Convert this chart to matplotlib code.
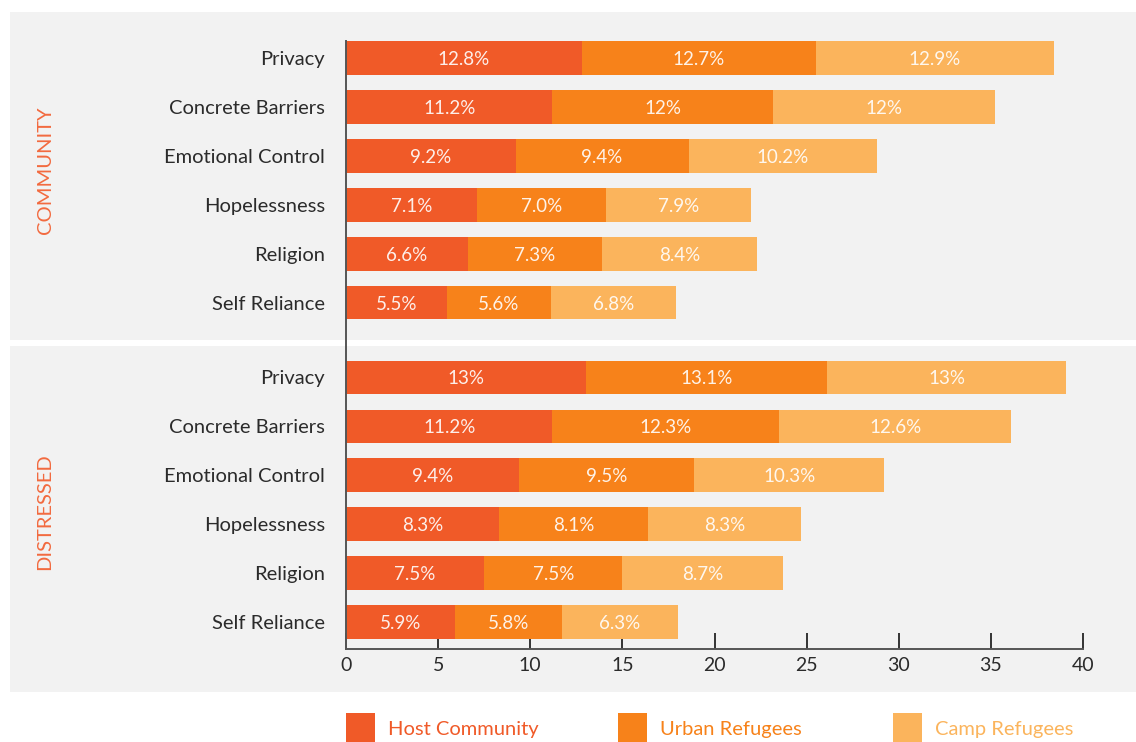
import matplotlib
matplotlib.use("Agg")
import matplotlib.pyplot as plt
from matplotlib.patches import Rectangle

plt.rcParams['font.family'] = ['Lato', 'DejaVu Sans']

categories = ["Privacy", "Concrete Barriers", "Emotional Control",
              "Hopelessness", "Religion", "Self Reliance"]
groups = ["COMMUNITY", "DISTRESSED"]
series = ["Host Community", "Urban Refugees", "Camp Refugees"]
colors = ["#f05a28", "#f7821a", "#fbb45c"]

# community
comm_host = [12.8, 11.2, 9.2, 7.1, 6.6, 5.5]
comm_urban = [12.7, 12, 9.4, 7.0, 7.3, 5.6]
comm_camp = [12.9, 12, 10.2, 7.9, 8.4, 6.8]
comm_host_lbl = ["12.8%", "11.2%", "9.2%", "7.1%", "6.6%", "5.5%"]
comm_urban_lbl = ["12.7%", "12%", "9.4%", "7.0%", "7.3%", "5.6%"]
comm_camp_lbl = ["12.9%", "12%", "10.2%", "7.9%", "8.4%", "6.8%"]

# distressed
dist_host = [13, 11.2, 9.4, 8.3, 7.5, 5.9]
dist_urban = [13.1, 12.3, 9.5, 8.1, 7.5, 5.8]
dist_camp = [13, 12.6, 10.3, 8.3, 8.7, 6.3]
dist_host_lbl = ["13%", "11.2%", "9.4%", "8.3%", "7.5%", "5.9%"]
dist_urban_lbl = ["13.1%", "12.3%", "9.5%", "8.1%", "7.5%", "5.8%"]
dist_camp_lbl = ["13%", "12.6%", "10.3%", "8.3%", "8.7%", "6.3%"]

xticks = [0, 5, 10, 15, 20, 25, 30, 35, 40]

W, H = 1136, 742
fig = plt.figure(figsize=(W / 100, H / 100), dpi=100)
fig.patch.set_facecolor("white")

def px(x, y):
    return x / W, 1 - y / H

# gray panels
for y0, y1 in [(12, 340), (346, 692)]:
    fig.add_artist(Rectangle(px(10, y1), (W - 10) / W, (y1 - y0) / H,
                             transform=fig.transFigure, facecolor="#f2f2f2",
                             edgecolor="none", zorder=0))

left, right = px(346, 0)[0], px(1083, 0)[0]
top, bottom = px(0, 41)[1], px(0, 649)[1]
ax = fig.add_axes([left, bottom, right - left, top - bottom])
ax.set_facecolor("none")

offset = 6.53
pos_comm = [i for i in range(len(categories))]
pos_dist = [offset + i for i in range(len(categories))]
h = 0.69

blocks = [
    (pos_comm, [comm_host, comm_urban, comm_camp],
     [comm_host_lbl, comm_urban_lbl, comm_camp_lbl]),
    (pos_dist, [dist_host, dist_urban, dist_camp],
     [dist_host_lbl, dist_urban_lbl, dist_camp_lbl]),
]
for pos, vals, lbls in blocks:
    left_acc = [0] * len(pos)
    for k, (v, l) in enumerate(zip(vals, lbls)):
        bars = ax.barh(pos, v, left=left_acc, height=h, color=colors[k],
                       edgecolor="none", zorder=2)
        for b, t in zip(bars, l):
            ax.text(b.get_x() + b.get_width() / 2, b.get_y() + b.get_height() / 2 + 0.03,
                    t, ha="center", va="center", color="white", fontsize=13.5,
                    alpha=0.9, zorder=3)
        left_acc = [a + b for a, b in zip(left_acc, v)]

ax.set_xlim(0, 40)
ax.set_ylim(offset + 5 + 0.55, -0.347)
ax.set_yticks(pos_comm + pos_dist)
ax.set_yticklabels(categories + categories, fontsize=14.5, color="#2b2b2b")
ax.set_xticks(xticks)
ax.set_xticklabels([str(t) for t in xticks], fontsize=14, color="#2b2b2b")
ax.tick_params(axis="y", length=0, pad=15)
ax.tick_params(axis="x", direction="in", length=11.5, width=1.4,
               color="#333333", pad=6)
for s in ["top", "right"]:
    ax.spines[s].set_visible(False)
for s in ["left", "bottom"]:
    ax.spines[s].set_color("#555555")
    ax.spines[s].set_linewidth(1.4)

# group labels
for g, yc in zip(groups, [170, 512]):
    fig.text(*px(45, yc), g, rotation=90, ha="center", va="center",
             color="#f26a3f", fontsize=14.5)

# legend
for name, c, x0 in zip(series, colors, [346, 618, 893]):
    fig.add_artist(Rectangle(px(x0, 750), 29 / W, 37 / H,
                             transform=fig.transFigure, facecolor=c,
                             edgecolor="none"))
    fig.text(*px(x0 + 42, 729), name, ha="left", va="center", color=c,
             fontsize=14.5)

fig.savefig("out.png", dpi=100)
